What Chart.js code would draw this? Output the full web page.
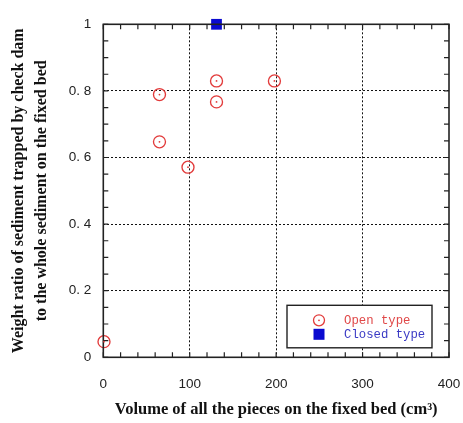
<!DOCTYPE html>
<html>
<head>
<meta charset="utf-8">
<script src="https://cdn.jsdelivr.net/npm/chart.js@4/dist/chart.umd.min.js"></script>
<style>
  html, body { margin: 0; padding: 0; background: #fff; }
  #wrap { width: 463px; height: 423px; position: relative; }
</style>
</head>
<body>
<div id="wrap"><canvas id="c"></canvas></div>
<script>
// ===== DATA =====
const openX   = [0.8, 65, 65, 98, 131, 131, 198];
const openY   = [0.047, 0.789, 0.647, 0.571, 0.830, 0.767, 0.830];
const closedX = [131];
const closedY = [1.0];

const xTicks = [0, 100, 200, 300, 400];
const yTicks = [0, 0.2, 0.4, 0.6, 0.8, 1];

const seriesNames = ['Open type', 'Closed type'];
const xTitle = 'Volume of all the pieces on the fixed bed (cm³)';
const yTitle = ['Weight ratio of sediment trapped by check dam',
                'to the whole sediment on the fixed bed'];

const RED  = '#e23b3b';
const BLUE = '#0a0ad0';

const toPoints = (xs, ys) => xs.map((x, i) => ({ x, y: ys[i] }));

// ===== PLUGINS =====
// frame + inward ticks on all four sides (major and minor)
const frameTicks = {
  id: 'frameTicks',
  afterDatasetsDraw(chart) {
    const { ctx, chartArea: a, scales: { x, y } } = chart;
    ctx.save();
    ctx.strokeStyle = '#222';
    ctx.lineWidth = 1.2;
    const len = 5;
    ctx.beginPath();
    for (let v = 0; v <= 400; v += 20) {
      const px = x.getPixelForValue(v);
      ctx.moveTo(px, a.bottom); ctx.lineTo(px, a.bottom - len);
      ctx.moveTo(px, a.top);    ctx.lineTo(px, a.top + len);
    }
    for (let k = 0; k <= 20; k++) {
      const py = y.getPixelForValue(k * 0.05);
      ctx.moveTo(a.left, py);  ctx.lineTo(a.left + len, py);
      ctx.moveTo(a.right, py); ctx.lineTo(a.right - len, py);
    }
    ctx.stroke();
    ctx.lineWidth = 1.6;
    ctx.strokeRect(a.left, a.top, a.right - a.left, a.bottom - a.top);
    ctx.restore();
  }
};

// small dot in the middle of every open circle
const centerDots = {
  id: 'centerDots',
  afterDatasetsDraw(chart) {
    const { ctx } = chart;
    const meta = chart.getDatasetMeta(0);
    ctx.save();
    ctx.fillStyle = RED;
    meta.data.forEach(pt => {
      ctx.beginPath();
      ctx.arc(pt.x, pt.y, 0.9, 0, Math.PI * 2);
      ctx.fill();
    });
    ctx.restore();
  }
};

// boxed legend in the lower right of the plot
const boxLegend = {
  id: 'boxLegend',
  afterDraw(chart) {
    const { ctx, chartArea: a } = chart;
    const bx = a.right - 162, by = a.bottom - 52, bw = 145, bh = 42.5;
    ctx.save();
    ctx.fillStyle = '#fff';
    ctx.fillRect(bx, by, bw, bh);
    ctx.strokeStyle = '#222';
    ctx.lineWidth = 1.4;
    ctx.strokeRect(bx, by, bw, bh);

    const mx = bx + 32, tx = bx + 57;
    const y1 = by + 15, y2 = by + 29;
    // open marker
    ctx.strokeStyle = RED; ctx.lineWidth = 1.3;
    ctx.beginPath(); ctx.arc(mx, y1, 5.5, 0, Math.PI * 2); ctx.stroke();
    ctx.fillStyle = RED;
    ctx.beginPath(); ctx.arc(mx, y1, 0.9, 0, Math.PI * 2); ctx.fill();
    // closed marker
    ctx.fillStyle = BLUE;
    ctx.fillRect(mx - 5.5, y2 - 5.5, 11, 11);

    ctx.font = '12.3px "Liberation Mono", monospace';
    ctx.textBaseline = 'middle';
    ctx.fillStyle = '#e04848';
    ctx.fillText(chart.data.datasets[0].label, tx, y1);
    ctx.fillStyle = '#3a3ac4';
    ctx.fillText(chart.data.datasets[1].label, tx, y2);
    ctx.restore();
  }
};

// ===== CHART =====
const majorGrid = (max) => (ctx) => {
  const v = ctx.tick ? ctx.tick.value : 0;
  return (v > 0 && v < max) ? '#111' : 'rgba(0,0,0,0)';
};

new Chart(document.getElementById('c'), {
  type: 'scatter',
  data: {
    datasets: [{
      label: seriesNames[0],
      data: toPoints(openX, openY),
      pointStyle: 'circle',
      pointRadius: 6,
      pointBorderWidth: 1.35,
      borderColor: RED,
      backgroundColor: 'rgba(255,255,255,0)',
      pointHoverRadius: 6,
      clip: false,
    }, {
      label: seriesNames[1],
      data: toPoints(closedX, closedY),
      pointStyle: 'rect',
      pointRadius: 7.6,
      pointBorderWidth: 0,
      borderColor: BLUE,
      backgroundColor: BLUE,
      clip: false,
    }]
  },
  options: {
    responsive: true,
    maintainAspectRatio: false,
    animation: false,
    layout: { padding: { left: 0, right: 14, top: 24.3, bottom: 0 } },
    plugins: {
      legend: { display: false },
      tooltip: { enabled: false },
    },
    scales: {
      x: {
        type: 'linear',
        min: 0, max: 400,
        afterBuildTicks: s => { s.ticks = xTicks.map(v => ({ value: v })); },
        afterFit: s => { s.height = 65.7; s.paddingLeft = 0; s.paddingRight = 0; },
        ticks: {
          padding: 19,
          color: '#222',
          font: { family: '"Liberation Sans", Arial, sans-serif', size: 13.5 },
          maxRotation: 0,
        },
        grid: { color: majorGrid(400), lineWidth: 1, drawTicks: false },
        border: { display: false, dash: [2, 2] },
        title: {
          display: true,
          text: xTitle,
          color: '#111',
          font: { family: '"Liberation Serif", "Times New Roman", serif', size: 16.5, weight: 'bold' },
          padding: { top: 0, bottom: 3 },
        }
      },
      y: {
        type: 'linear',
        min: 0, max: 1,
        afterBuildTicks: s => { s.ticks = yTicks.map(v => ({ value: v })); },
        afterFit: s => { s.width = 103.3; s.paddingTop = 0; s.paddingBottom = 0; },
        ticks: {
          padding: 12,
          color: '#222',
          font: { family: '"Liberation Sans", Arial, sans-serif', size: 13.5 },
          callback: v => (v === 0 || v === 1) ? String(v) : v.toFixed(1).replace('.', '. '),
        },
        grid: { color: majorGrid(1), lineWidth: 1, drawTicks: false },
        border: { display: false, dash: [2, 2] },
        title: {
          display: true,
          text: yTitle,
          color: '#111',
          font: { family: '"Liberation Serif", "Times New Roman", serif', size: 16, weight: 'bold', lineHeight: 1.4 },
          padding: { top: 8, bottom: 0 },
        }
      }
    }
  },
  plugins: [frameTicks, centerDots, boxLegend]
});
</script>
</body>
</html>
